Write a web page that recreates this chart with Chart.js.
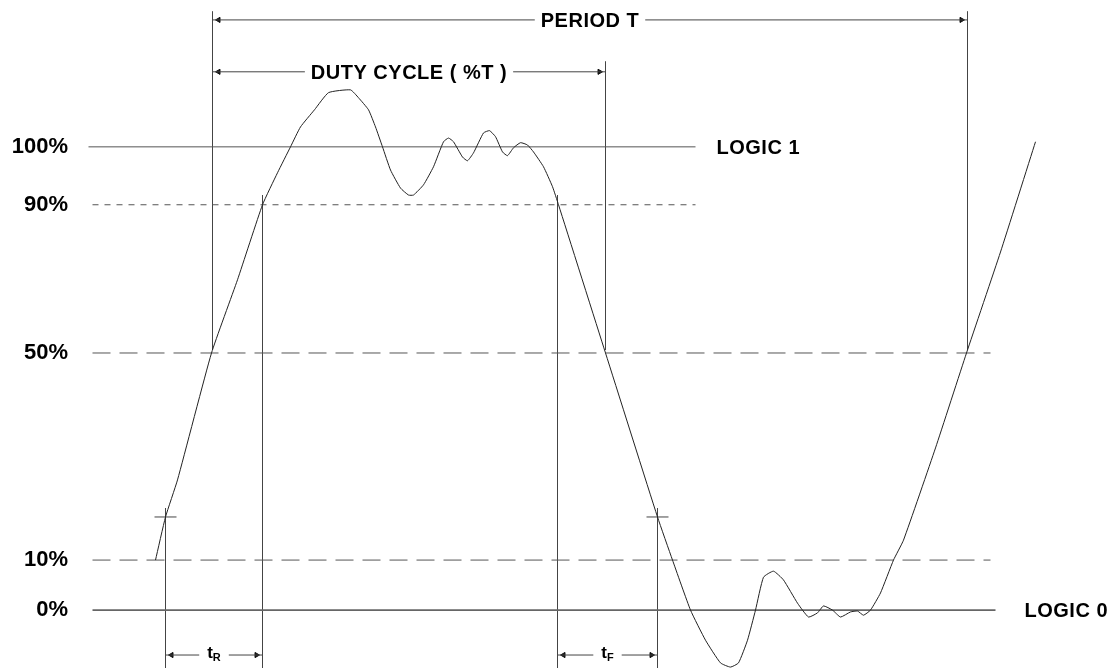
<!DOCTYPE html>
<html>
<head>
<meta charset="utf-8">
<script src="https://cdn.jsdelivr.net/npm/chart.js@4/dist/chart.umd.min.js"></script>
<style>
 body{margin:0;background:#fff;}
 canvas{display:block;}
</style>
</head>
<body>
<canvas id="myChart" width="1115" height="668"></canvas>
<script>
// waveform, x = time (arbitrary units), y = % of logic swing (scale is not linear in the drawing)
const waveX = [155,165,177,211,237,262,277,290,300,314,328,350,358,368,375,382,390,400,408,413,423,433,443,448,453,462,467,473,483,489,495,502,507,513,520,527,533,543,552,558,605,657,672,690,705,720,730,738,747,755,763,773,783,797,808,817,823,832,840,850,857,863,870,880,893,903,935,966,1000,1035];
const waveY = [10.8,20.1,28.1,55.5,71.3,87.5,94.4,100,104.3,108,111.7,112.3,110.6,108,104.3,100,95,91.1,89.6,89.6,91.8,95.7,101.1,101.9,101.1,97.8,97,98.7,103,103.5,102.2,98.9,98.1,99.8,100.9,100.4,98.9,95.7,91.4,87.5,55.5,20.1,10.8,0,-6.5,-11.4,-12.3,-11.4,-6.5,0,7.1,8.4,6.5,1.5,-1.5,-0.6,0.9,0,-1.5,-0.4,-0.2,-1.1,0,3.7,10.8,15.1,35,55.5,77.3,101.1];

// reference levels
const levelValues = [100, 87.5, 55.5, 10.8, 0];
const levelLabels = ['100%', '90%', '50%', '10%', '0%'];

// dimension marks (start, end, level) and their labels
const dimStart = [212, 212, 165, 557];
const dimEnd = [967, 605, 262, 657];
const dimLevel = [127.4, 116.2, -9.7, -9.7];
const dimLabels = ['PERIOD T', 'DUTY CYCLE ( %T )', 't', 't'];
const dimSubs = ['', '', 'R', 'F'];

// vertical guides
const guideX = [212, 967, 605, 262, 557, 165, 657];
const guideTop = [129.2, 129.2, 118.4, 89.6, 89.6, 22.0, 22.0];
const guideBottom = [56.2, 56.2, 56.2, -13, -13, -13, -13];

//---------------------------- build datasets ----------------------------//
const lineStyle = {showLine:true, pointRadius:0, borderWidth:1, fill:false};
const datasets = [];

datasets.push(Object.assign({
  data: waveX.map((x, i) => ({x: x, y: waveY[i]})),
  borderColor: '#222', tension: 0.15
}, lineStyle));

// level lines
const levelFrom = [88, 92, 92, 92, 92];
const levelTo = [695, 695, 990, 990, 995];
const levelDash = [[], [6, 6], [18, 9], [18, 9], []];
levelValues.forEach((v, i) => {
  datasets.push(Object.assign({
    data: [{x: levelFrom[i], y: v}, {x: levelTo[i], y: v}],
    borderColor: i == 4 ? '#666' : '#555',
    borderDash: levelDash[i]
  }, lineStyle, {borderWidth: i == 4 ? 1.6 : 1}));
});

guideX.forEach((x, i) => {
  datasets.push(Object.assign({
    data: [{x: x, y: guideTop[i]}, {x: x, y: guideBottom[i]}],
    borderColor: '#444'
  }, lineStyle));
});

// small cross ticks on the 10% edge points
[165, 657].forEach(x => {
  datasets.push(Object.assign({
    data: [{x: x - 11, y: 20.1}, {x: x + 11, y: 20.1}],
    borderColor: '#444'
  }, lineStyle));
});

// dimension lines with arrow heads
dimStart.forEach((s, i) => {
  datasets.push(Object.assign({
    data: [{x: s, y: dimLevel[i]}, {x: dimEnd[i], y: dimLevel[i]}],
    borderColor: '#444'
  }, lineStyle));
  datasets.push({
    data: [{x: s + 6, y: dimLevel[i]}, {x: dimEnd[i] - 6, y: dimLevel[i]}],
    showLine: false,
    pointStyle: 'triangle',
    pointRadius: 3,
    pointRotation: [-90, 90],
    pointBackgroundColor: '#111',
    pointBorderColor: '#111',
    pointBorderWidth: 1
  });
});

//---------------------------- text plugin ----------------------------//
const textPlugin = {
  id: 'texts',
  afterDatasetsDraw(chart) {
    const ctx = chart.ctx;
    const xs = chart.scales.x, ys = chart.scales.y;
    ctx.save();
    ctx.fillStyle = '#000';
    ctx.textBaseline = 'alphabetic';
    dimLabels.forEach((lab, i) => {
      const cx = (xs.getPixelForValue(dimStart[i]) + xs.getPixelForValue(dimEnd[i])) / 2;
      const cy = ys.getPixelForValue(dimLevel[i]);
      if (dimSubs[i]) {
        ctx.letterSpacing = '0px';
        ctx.font = 'bold 17px "Liberation Sans", Arial, sans-serif';
        const w1 = ctx.measureText(lab).width;
        ctx.font = 'bold 11px "Liberation Sans", Arial, sans-serif';
        const w2 = ctx.measureText(dimSubs[i]).width;
        const w = w1 + w2;
        ctx.fillStyle = '#fff';
        ctx.fillRect(cx - w / 2 - 8, cy - 4, w + 16, 8);
        ctx.fillStyle = '#000';
        ctx.font = 'bold 17px "Liberation Sans", Arial, sans-serif';
        ctx.fillText(lab, cx - w / 2, cy + 3);
        ctx.font = 'bold 11px "Liberation Sans", Arial, sans-serif';
        ctx.fillText(dimSubs[i], cx - w / 2 + w1, cy + 6);
      } else {
        ctx.font = 'bold 20px "Liberation Sans", Arial, sans-serif';
        ctx.letterSpacing = '0.5px';
        const w = ctx.measureText(lab).width;
        ctx.fillStyle = '#fff';
        ctx.fillRect(cx - w / 2 - 6, cy - 4, w + 12, 8);
        ctx.fillStyle = '#000';
        ctx.fillText(lab, cx - w / 2, cy + 7);
      }
    });
    ctx.font = 'bold 20px "Liberation Sans", Arial, sans-serif';
    ctx.letterSpacing = '0.5px';
    ctx.textAlign = 'left';
    ctx.fillText('LOGIC 1', xs.getPixelForValue(716), ys.getPixelForValue(100) + 7);
    ctx.fillText('LOGIC 0', xs.getPixelForValue(1024), ys.getPixelForValue(0) + 7);
    ctx.restore();
  }
};

const chartCtx = document.getElementById('myChart').getContext('2d');
const myChart = new Chart(chartCtx, {
  type: 'scatter',
  data: {datasets: datasets},
  options: {
    responsive: false,
    animation: false,
    devicePixelRatio: 1,
    layout: {padding: 0, autoPadding: false},
    plugins: {legend: {display: false}, tooltip: {enabled: false}},
    scales: {
      // half-unit offset keeps 1px vertical lines on pixel centres
      x: {type: 'linear', min: 87.5, max: 1114.5, display: false},
      y: {
        type: 'linear', min: -12.5, max: 131.7,
        afterBuildTicks: (s) => { s.ticks = levelValues.map(v => ({value: v})); },
        afterFit: (s) => { s.width = 88; s.paddingTop = 0; s.paddingBottom = 0; },
        ticks: {
          callback: (v) => levelLabels[levelValues.indexOf(v)],
          font: {family: '"Liberation Sans", Arial, sans-serif', weight: 'bold', size: 22},
          color: '#000',
          padding: 20
        },
        grid: {display: false, drawTicks: false},
        border: {display: false}
      }
    }
  },
  plugins: [textPlugin]
});
</script>
</body>
</html>
